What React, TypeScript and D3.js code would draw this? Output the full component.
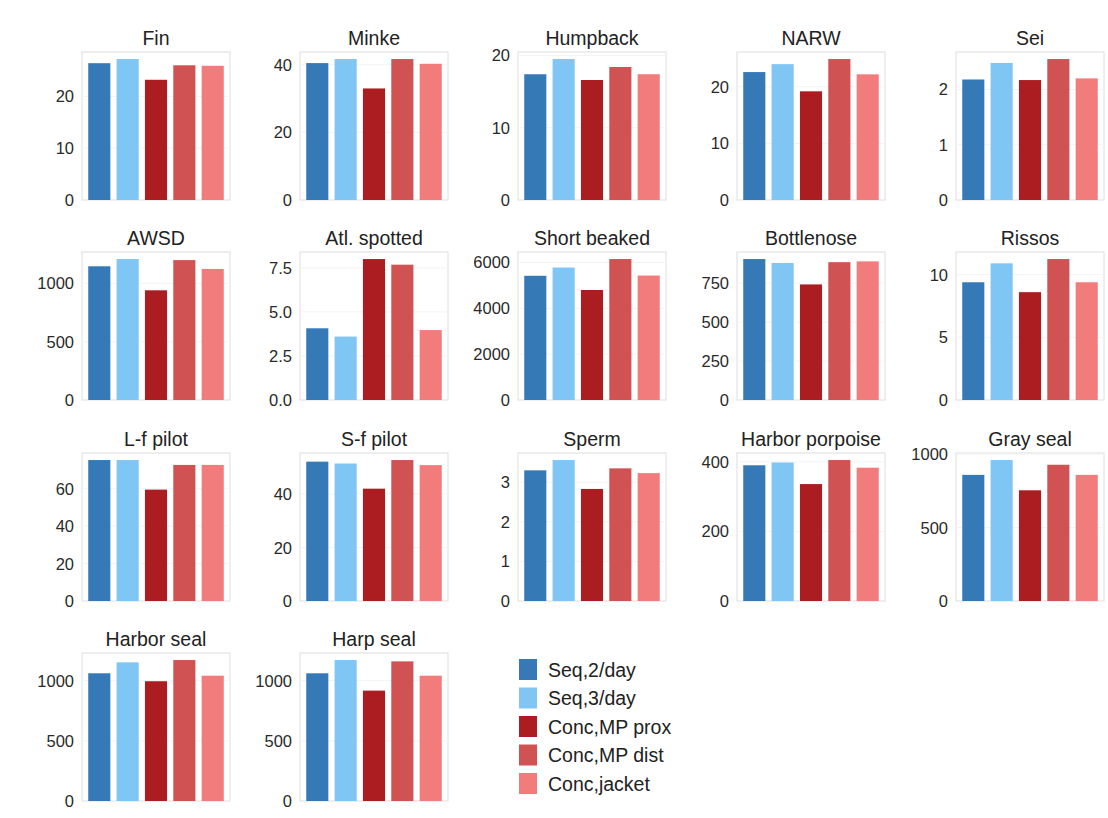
import React from "react";
import * as d3 from "d3";

const species = [
  "Fin", "Minke", "Humpback", "NARW", "Sei",
  "AWSD", "Atl. spotted", "Short beaked", "Bottlenose", "Rissos",
  "L-f pilot", "S-f pilot", "Sperm", "Harbor porpoise", "Gray seal",
  "Harbor seal", "Harp seal",
];

const seriesNames = ["Seq,2/day", "Seq,3/day", "Conc,MP prox", "Conc,MP dist", "Conc,jacket"];
const seriesColors = ["#3679b7", "#80c6f5", "#ab1d21", "#d05252", "#f27b7b"];

const seq2 = [26.4, 40.5, 17.4, 22.6, 2.18, 1147, 4.07, 5420, 905, 9.39, 75.3, 52.1, 3.3, 390, 859, 1061, 1061];
const seq3 = [27.2, 41.7, 19.5, 24.0, 2.48, 1209, 3.6, 5780, 880, 10.9, 75.3, 51.4, 3.56, 398, 960, 1152, 1171];
const mpProx = [23.2, 33.0, 16.6, 19.2, 2.17, 941, 8.0, 4800, 742, 8.6, 59.5, 42.0, 2.83, 336, 754, 995, 917];
const mpDist = [26.0, 41.7, 18.4, 24.9, 2.55, 1200, 7.68, 6150, 885, 11.24, 72.7, 52.7, 3.35, 405, 928, 1171, 1160];
const jacket = [25.9, 40.3, 17.4, 22.2, 2.2, 1124, 3.97, 5430, 890, 9.39, 72.7, 50.8, 3.23, 383, 859, 1041, 1041];

const yTicks: number[][] = [
  [0, 10, 20], [0, 20, 40], [0, 10, 20], [0, 10, 20], [0, 1, 2],
  [0, 500, 1000], [0, 2.5, 5, 7.5], [0, 2000, 4000, 6000], [0, 250, 500, 750], [0, 5, 10],
  [0, 20, 40, 60], [0, 20, 40], [0, 1, 2, 3], [0, 200, 400], [0, 500, 1000],
  [0, 500, 1000], [0, 500, 1000],
];
const tickFormats = [
  "d", "d", "d", "d", "d",
  "d", ".1f", "d", "d", "d",
  "d", "d", "d", "d", "d",
  "d", "d",
];

const allSeries = [seq2, seq3, mpProx, mpDist, jacket];

const W = 1108;
const H = 818;
const colX = [82, 300, 518, 737, 956];
const rowBase = [200, 400, 601, 801];
const frameW = 148;
const frameH = 148;
const font = "'Liberation Sans', Arial, Helvetica, sans-serif";

export default function App() {
  const x = d3.scaleBand<number>().domain([0, 1, 2, 3, 4]).range([0, frameW]).paddingInner(0.22).paddingOuter(0.22);

  return (
    <svg width={W} height={H} style={{ position: "absolute", left: 0, top: 0, background: "#fff" }} fontFamily={font}>
      {species.map((name, i) => {
        const col = i % 5;
        const row = Math.floor(i / 5);
        const left = colX[col];
        const base = rowBase[row];
        const top = base - frameH;
        const vals = allSeries.map((s) => s[i]);
        const maxV = d3.max(vals) as number;
        const y = d3.scaleLinear().domain([0, maxV * 1.05]).range([base, top]);
        const fmt = d3.format(tickFormats[i]);
        return (
          <g key={name}>
            <rect x={left} y={top} width={frameW} height={frameH} fill="none" stroke="#dedede" strokeWidth={1} />
            {yTicks[i].map((t) => (
              <g key={t}>
                {t > 0 && (
                  <line x1={left} x2={left + frameW} y1={y(t)} y2={y(t)} stroke="#f3f3f3" strokeWidth={1} />
                )}
                <text x={left - 8} y={y(t)} textAnchor="end" dominantBaseline="central" fontSize={16.5} fill="#2a2a2a">
                  {fmt(t)}
                </text>
              </g>
            ))}
            {vals.map((v, k) => (
              <rect
                key={k}
                x={left + (x(k) as number)}
                y={y(v)}
                width={x.bandwidth()}
                height={base - y(v)}
                fill={seriesColors[k]}
              />
            ))}
            <text x={left + frameW / 2} y={top - 7} textAnchor="middle" fontSize={19.5} fill="#222">
              {name}
            </text>
          </g>
        );
      })}
      <g>
        {seriesNames.map((s, k) => (
          <g key={s} transform={`translate(519, ${659 + k * 28.5})`}>
            <rect x={0} y={0} width={18} height={21} fill={seriesColors[k]} />
            <text x={29} y={10.5} dominantBaseline="central" fontSize={19.5} fill="#222">
              {s}
            </text>
          </g>
        ))}
      </g>
    </svg>
  );
}
